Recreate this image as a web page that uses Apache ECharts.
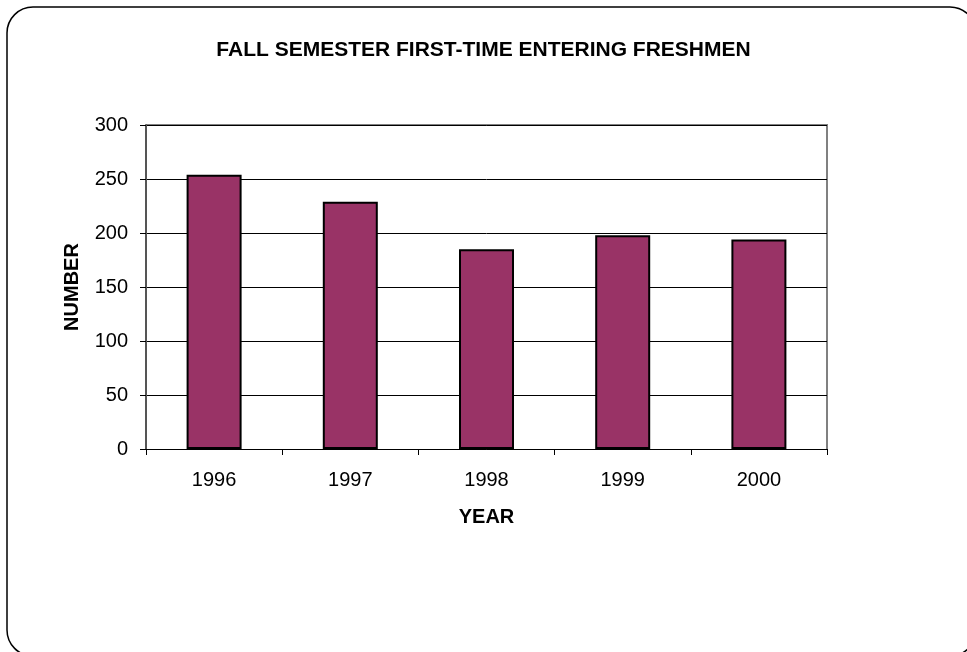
<!DOCTYPE html>
<html>
<head>
<meta charset="utf-8">
<style>
  html, body { margin: 0; padding: 0; background: #fff; }
  #chart { width: 967px; height: 652px; }
</style>
<script src="https://cdn.jsdelivr.net/npm/echarts@6/dist/echarts.min.js"></script>
</head>
<body>
<div id="chart"></div>
<script>
const years = ['1996', '1997', '1998', '1999', '2000'];
const freshmen = [254, 229, 185, 198, 194];
const yTicks = { min: 0, max: 300, interval: 50 };

const myChart = echarts.init(document.getElementById('chart'));

const font = 'Liberation Sans, Arial';

const option = {
  backgroundColor: '#fff',
  animation: false,
  title: {
    text: 'FALL SEMESTER FIRST-TIME ENTERING FRESHMEN',
    left: 'center',
    top: 35,
    textStyle: {
      fontFamily: font,
      fontSize: 21,
      fontWeight: 'bold',
      color: '#000'
    }
  },
  // rounded frame round the whole chart
  graphic: [{
    type: 'rect',
    shape: { x: 7, y: 7, width: 969, height: 649, r: 26 },
    style: { fill: 'none', stroke: '#000', lineWidth: 1.5 },
    silent: true
  }, {
    // top and right edge of plot area (grey)
    type: 'polyline',
    shape: { points: [[146, 125], [827, 125], [827, 449]] },
    style: { fill: 'none', stroke: '#808080', lineWidth: 2 },
    silent: true
  }],
  grid: {
    left: 146,
    right: 140,
    top: 125,
    bottom: 203
  },
  xAxis: {
    type: 'category',
    data: years,
    name: 'YEAR',
    nameLocation: 'middle',
    nameGap: 68,
    nameTextStyle: {
      fontFamily: font,
      fontSize: 20,
      fontWeight: 'bold',
      color: '#000',
      verticalAlign: 'middle'
    },
    axisLine: { lineStyle: { color: '#000', width: 1 } },
    axisTick: { show: true, length: 6, alignWithLabel: false, lineStyle: { color: '#000' } },
    axisLabel: {
      fontFamily: font,
      fontSize: 20,
      color: '#000',
      margin: 21
    }
  },
  yAxis: {
    type: 'value',
    min: yTicks.min,
    max: yTicks.max,
    interval: yTicks.interval,
    name: 'NUMBER',
    nameLocation: 'middle',
    nameGap: 74,
    nameRotate: 90,
    nameTextStyle: {
      fontFamily: font,
      fontSize: 20,
      fontWeight: 'bold',
      color: '#000',
      verticalAlign: 'middle'
    },
    axisLine: { show: true, lineStyle: { color: '#555', width: 2 } },
    axisTick: { show: true, length: 6, lineStyle: { color: '#000' } },
    axisLabel: {
      fontFamily: font,
      fontSize: 20,
      color: '#000',
      margin: 18
    },
    splitLine: { show: true, lineStyle: { color: '#000', width: 1 } }
  },
  series: [{
    type: 'bar',
    data: freshmen,
    barWidth: 55,
    itemStyle: {
      color: '#993366',
      borderColor: '#000',
      borderWidth: 2
    }
  }]
};

myChart.setOption(option);
</script>
</body>
</html>
